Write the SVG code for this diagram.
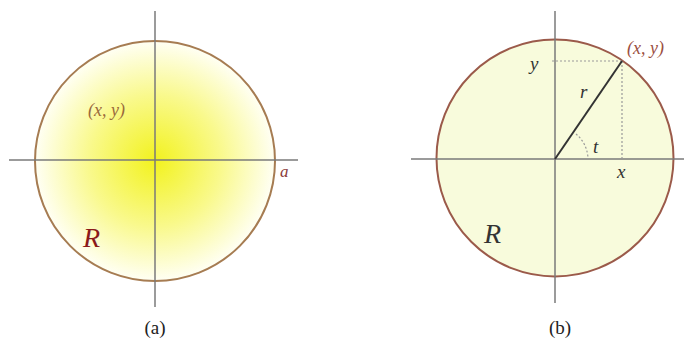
<svg xmlns="http://www.w3.org/2000/svg" width="684" height="346" viewBox="0 0 684 346">
<style>
.axis{stroke:#7a7a7a;stroke-width:1.5;fill:none}
.it{font-family:"Liberation Serif","DejaVu Serif",serif;font-style:italic}
.cap{font-family:"Liberation Serif","DejaVu Serif",serif;font-size:19px;fill:#222;text-anchor:middle}
.dot{stroke:#999;stroke-width:1.2;stroke-dasharray:2 2;fill:none}
</style>
<defs>
<radialGradient id="glow" cx="0.5" cy="0.5" r="0.5">
<stop offset="0" stop-color="#f2f21e"/>
<stop offset="0.55" stop-color="#f9f98c"/>
<stop offset="1" stop-color="#fffff4"/>
</radialGradient>
</defs>
<rect width="684" height="346" fill="#fff"/>
<g id="figA">
<circle cx="155" cy="161" r="120" fill="url(#glow)" stroke="#a67c52" stroke-width="2"/>
<line class="axis" x1="155" y1="11" x2="155" y2="307"/>
<line class="axis" x1="9" y1="160" x2="298" y2="160"/>
<text class="it" x="88" y="116" font-size="18" fill="#9a6a3c">(x, y)</text>
<text class="it" x="280" y="177" font-size="17" fill="#8b3a3a">a</text>
<text class="it" x="83" y="247" font-size="28" fill="#8b1a1a">R</text>
<text class="cap" x="155" y="334">(a)</text>
</g>
<g id="figB">
<circle cx="555" cy="158" r="118.5" fill="#f8fbdc" stroke="#9b5a4a" stroke-width="2"/>
<line class="axis" x1="555" y1="11" x2="555" y2="303"/>
<line class="axis" x1="411" y1="159" x2="684" y2="159"/>
<line class="dot" x1="552" y1="61" x2="622" y2="61"/>
<line class="dot" x1="622" y1="61" x2="622" y2="159"/>
<line x1="555" y1="159" x2="622" y2="61" stroke="#333" stroke-width="2"/>
<path d="M576 134 A33 33 0 0 1 588 159" class="dot" stroke="#666"/>
<text class="it" x="530" y="70" font-size="19" fill="#333">y</text>
<text class="it" x="580" y="98" font-size="19" fill="#333">r</text>
<text class="it" x="593" y="153" font-size="19" fill="#333">t</text>
<text class="it" x="617" y="178" font-size="19" fill="#333">x</text>
<text class="it" x="627" y="54" font-size="18" fill="#9b4f3f">(x, y)</text>
<text class="it" x="484" y="243" font-size="28" fill="#333">R</text>
<text class="cap" x="560" y="334">(b)</text>
</g>
</svg>
